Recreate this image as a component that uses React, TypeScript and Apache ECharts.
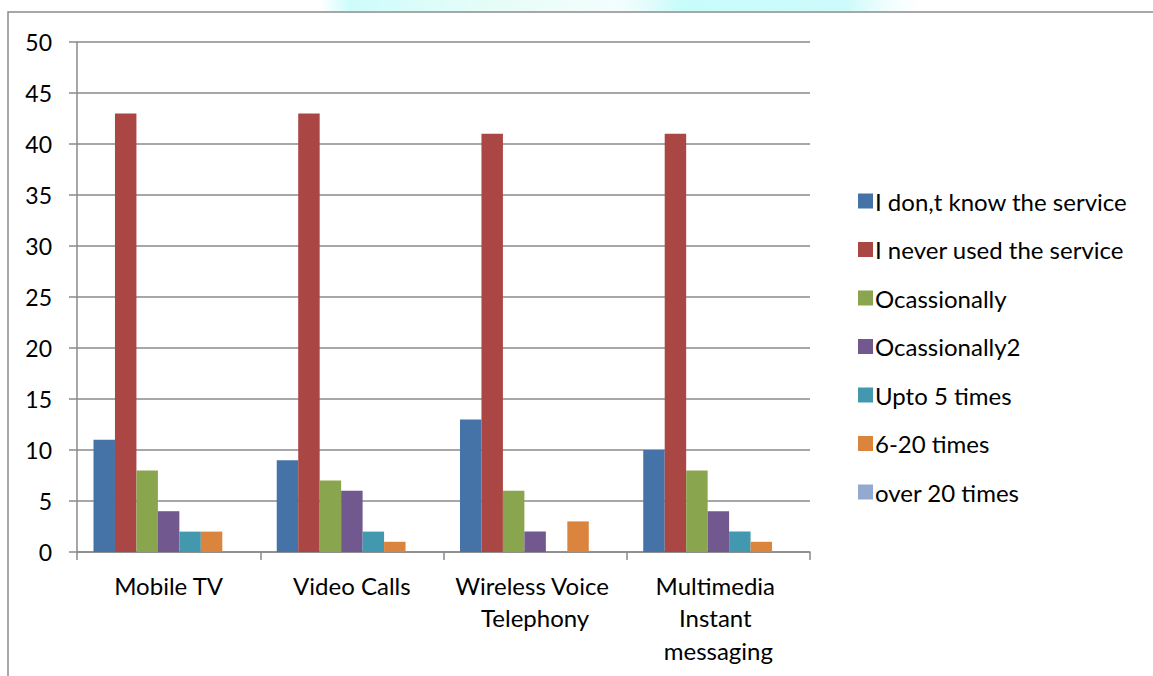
import React, { useEffect, useRef } from "react";
import * as echarts from "echarts";

const categories = [
  "Mobile TV",
  "Video Calls",
  "Wireless Voice Telephony",
  "Multimedia Instant messaging",
];

const seriesNames = [
  "I don,t know the service",
  "I never used the service",
  "Ocassionally",
  "Ocassionally2",
  "Upto 5 times",
  "6-20 times",
  "over 20 times",
];

const dontKnow = [11, 9, 13, 10];
const neverUsed = [43, 43, 41, 41];
const occasionally = [8, 7, 6, 8];
const occasionally2 = [4, 6, 2, 4];
const upTo5 = [2, 2, 0, 2];
const sixTo20 = [2, 1, 3, 1];
const over20 = [0, 0, 0, 0];

const seriesValues = [dontKnow, neverUsed, occasionally, occasionally2, upTo5, sixTo20, over20];

const colors = ["#4572A7", "#AA4643", "#89A54E", "#71588F", "#4198AF", "#DB843D", "#93A9CF"];

const FONT = "Lato, 'Open Sans', sans-serif";
const AXIS_GREY = "#8a8a8a";

export default function App() {
  const ref = useRef<HTMLDivElement>(null);

  useEffect(() => {
    if (!ref.current) return;
    const chart = echarts.init(ref.current, undefined, { renderer: "svg" });
    chart.setOption({
      animation: false,
      color: colors,
      textStyle: { fontFamily: FONT },
      graphic: [
        {
          type: "rect",
          shape: { x: 320, y: 0, width: 600, height: 11 },
          style: {
            fill: new echarts.graphic.LinearGradient(0, 0, 1, 0, [
              { offset: 0, color: "rgba(200,252,252,0)" },
              { offset: 0.05, color: "rgba(200,252,252,0.9)" },
              { offset: 0.3, color: "rgba(225,252,245,0.8)" },
              { offset: 0.5, color: "rgba(235,252,252,0.6)" },
              { offset: 0.6, color: "rgba(196,252,250,0.95)" },
              { offset: 0.88, color: "rgba(200,250,250,0.9)" },
              { offset: 1, color: "rgba(230,252,252,0)" },
            ]),
          },
          silent: true,
        },
        {
          type: "polyline",
          shape: { points: [[8, 676], [8, 12], [1153, 12]] },
          style: { stroke: AXIS_GREY, lineWidth: 1.5, fill: "none" },
          silent: true,
        },
      ],
      legend: {
        orient: "vertical",
        left: 853,
        top: 184,
        icon: "rect",
        itemWidth: 15,
        itemHeight: 15,
        itemGap: 24.5,
        textStyle: {
          fontSize: 24,
          lineHeight: 22,
          color: "#000",
          fontFamily: FONT,
          padding: [0, 0, 0, -3],
        },
        data: seriesNames,
      },
      grid: { left: 77, right: 343, top: 42, bottom: 124 },
      xAxis: {
        type: "category",
        data: categories,
        axisLine: { lineStyle: { color: AXIS_GREY, width: 1.5 } },
        axisTick: { show: true, length: 8, lineStyle: { color: AXIS_GREY, width: 1.5 } },
        axisLabel: {
          interval: 0,
          color: "#000",
          fontSize: 24,
          lineHeight: 32.5,
          margin: 17,
          width: 170,
          overflow: "break",
          fontFamily: FONT,
        },
      },
      yAxis: {
        type: "value",
        min: 0,
        max: 50,
        interval: 5,
        axisLine: { show: true, lineStyle: { color: AXIS_GREY, width: 1.5 } },
        axisTick: { show: true, length: 8, lineStyle: { color: AXIS_GREY, width: 1.5 } },
        splitLine: { lineStyle: { color: AXIS_GREY, width: 1.5 } },
        axisLabel: { color: "#000", fontSize: 23, margin: 25, fontFamily: FONT },
      },
      series: seriesNames.map((name, i) => ({
        name,
        type: "bar",
        data: seriesValues[i],
        barGap: "0%",
        barCategoryGap: "18%",
      })),
    });
    return () => chart.dispose();
  }, []);

  return (
    <div
      ref={ref}
      style={{ position: "fixed", left: 0, top: 0, width: 1153, height: 676, background: "#fff" }}
    />
  );
}
